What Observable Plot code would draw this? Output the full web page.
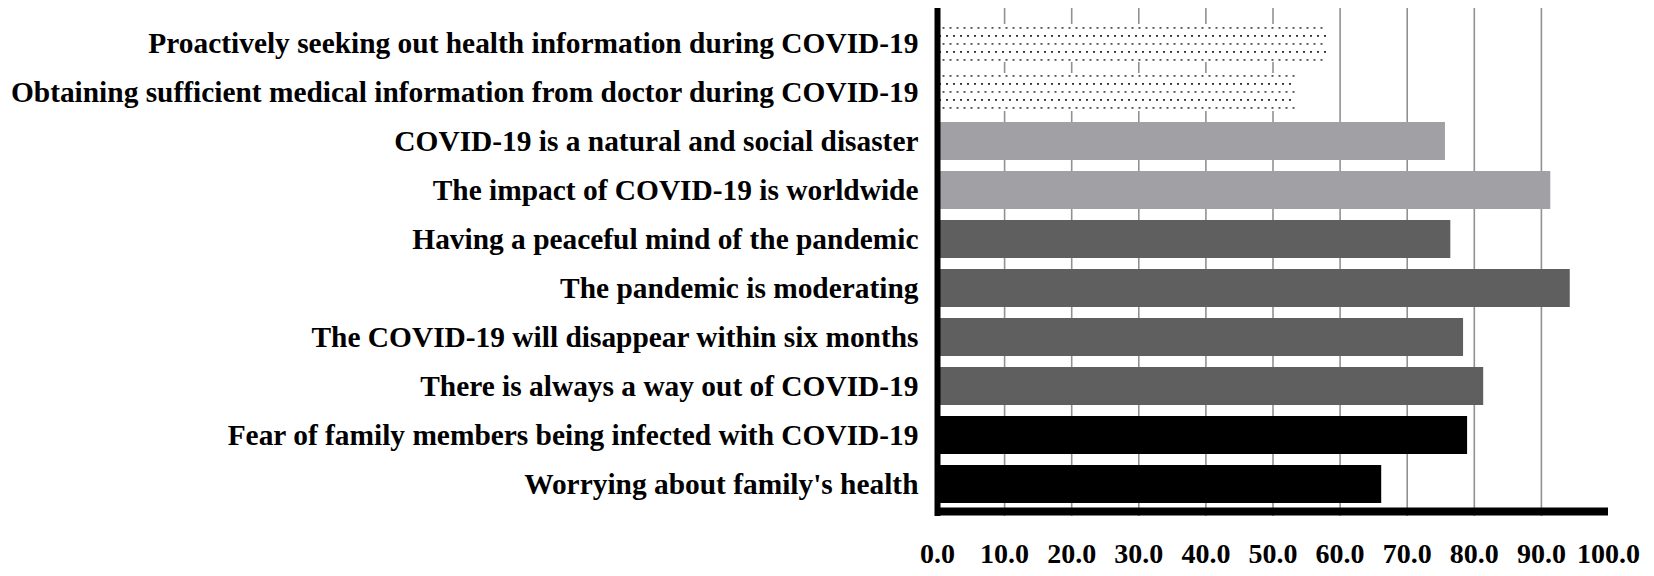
<!DOCTYPE html>
<html><head><meta charset="utf-8">
<script src="https://cdn.jsdelivr.net/npm/d3@7"></script>
<script src="https://cdn.jsdelivr.net/npm/@observablehq/plot@0.6"></script>
<style>body{margin:0;background:#fff}</style>
</head><body><div id="chart"></div>
<script>
const categories = [
  "Proactively seeking out health information during COVID-19",
  "Obtaining sufficient medical information from doctor during COVID-19",
  "COVID-19 is a natural and social disaster",
  "The impact of COVID-19 is worldwide",
  "Having a peaceful mind of the pandemic",
  "The pandemic is moderating",
  "The COVID-19 will disappear within six months",
  "There is always a way out of COVID-19",
  "Fear of family members being infected with COVID-19",
  "Worrying about family's health"
];
const values = [58.1, 53.4, 75.7, 91.4, 76.5, 94.3, 78.4, 81.4, 79.0, 66.2];
const groups = ["dotted","dotted","light","light","dark","dark","dark","dark","black","black"];
const xTicks = [0, 10, 20, 30, 40, 50, 60, 70, 80, 90, 100];
const gridTicks = [10, 20, 30, 40, 50, 60, 70, 80, 90];
const groupFills = {dotted: "url(#dots)", light: "#a1a1a5", dark: "#5f5f5f", black: "#000000"};

const data = categories.map((c, i) => ({category: c, value: values[i], group: groups[i]}));

const barMarks = Object.keys(groupFills).map(g =>
  Plot.barX(data.filter(d => d.group === g), {x: "value", y: "category", fill: groupFills[g]})
);

const plot = Plot.plot({
  width: 1654, height: 576,
  marginLeft: 937, marginRight: 46, marginTop: 8, marginBottom: 60,
  style: {fontFamily: "'Liberation Serif','Times New Roman',serif", fontWeight: "bold", fontSize: "29px", color: "#000", background: "#fff"},
  x: {domain: [0, 100]},
  y: {domain: categories, range: [12, 515], padding: 0.22},
  marks: [
    Plot.gridX(gridTicks, {stroke: "#919191", strokeOpacity: 1, strokeWidth: 1.6}),
    ...barMarks,
    Plot.ruleX([0], {stroke: "#000", strokeWidth: 6}),
    Plot.ruleY([categories[categories.length - 1]], {x1: 0, x2: 100, dy: 27, stroke: "#000", strokeWidth: 8}),
    Plot.axisY({tickSize: 0, tickPadding: 19, fontSize: 29.4, label: null}),
    Plot.axisX({ticks: xTicks, tickSize: 0, tickPadding: 27, tickFormat: d3.format(".1f"), fontSize: 28, label: null})
  ]
});

const ns = "http://www.w3.org/2000/svg";
const defs = document.createElementNS(ns, "defs");
defs.innerHTML = `<pattern id="dots" patternUnits="userSpaceOnUse" width="7" height="16">
  <rect width="7" height="16" fill="#fff"></rect>
  <rect x="1" y="3" width="2" height="1.8" fill="#333"></rect>
  <rect x="4.5" y="11" width="2" height="1.8" fill="#555"></rect>
</pattern>`;
plot.insertBefore(defs, plot.firstChild);
document.getElementById("chart").appendChild(plot);
</script>
</body></html>
